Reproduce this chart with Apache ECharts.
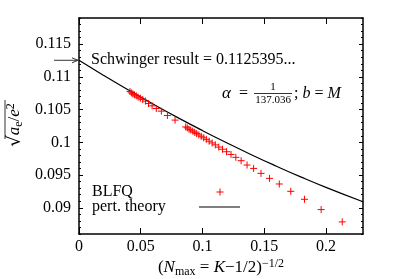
<!DOCTYPE html>
<html><head><meta charset="utf-8">
<script src="https://cdn.jsdelivr.net/npm/echarts@6/dist/echarts.min.js"></script>
<style>html,body{margin:0;padding:0;background:#fff}#c{width:399px;height:279px}</style>
</head><body><div id="c"></div>
<script>
// perturbation theory curve
const curveX = [0, 0.02, 0.04, 0.06, 0.08, 0.1, 0.12, 0.14, 0.16, 0.18, 0.2, 0.23];
const curveY = [0.11254, 0.11023, 0.10800, 0.10585, 0.10378, 0.10180, 0.09990, 0.09808, 0.09635, 0.09469, 0.09312, 0.09092];
// BLFQ points
const blfqX = [0.0413, 0.0424, 0.0436, 0.0449, 0.0464, 0.0479, 0.0497, 0.0516, 0.0538, 0.0563, 0.0592, 0.0626, 0.0667, 0.0716, 0.0778,
  0.0864, 0.0877, 0.0891, 0.0905, 0.0921, 0.0937, 0.0953, 0.0971, 0.0990, 0.1010, 0.1031, 0.1054, 0.1078, 0.1104, 0.1132, 0.1162,
  0.1195, 0.1231, 0.1270, 0.1313, 0.1361, 0.1414, 0.1474, 0.1543, 0.1622, 0.1715, 0.1826, 0.1961, 0.2132];
const blfqY = [0.10776, 0.10756, 0.10741, 0.10726, 0.10710, 0.10690, 0.10675, 0.10654, 0.10630, 0.10593, 0.10558, 0.10517, 0.10477, 0.10410, 0.10340,
  0.10236, 0.10221, 0.10201, 0.10189, 0.10172, 0.10154, 0.10134, 0.10114, 0.10093, 0.10069, 0.10046, 0.10018, 0.09991, 0.09962, 0.09928, 0.09895,
  0.09857, 0.09816, 0.09771, 0.09720, 0.09654, 0.09602, 0.09526, 0.09450, 0.09364, 0.09252, 0.09130, 0.08973, 0.08785];
const xTicks = [0, 0.05, 0.1, 0.15, 0.2];
const yTicks = [0.09, 0.095, 0.1, 0.105, 0.11, 0.115];
const yMinorTicks = [0.086, 0.087, 0.088, 0.089, 0.090, 0.091, 0.092, 0.093, 0.094, 0.095, 0.096, 0.097, 0.098, 0.099, 0.100,
  0.101, 0.102, 0.103, 0.104, 0.105, 0.106, 0.107, 0.108, 0.109, 0.110, 0.111, 0.112, 0.113, 0.114, 0.115, 0.116, 0.117, 0.118, 0.119];
const schwinger = 0.1125395;

const F = 'Liberation Serif';
const K = '#000';
const chart = echarts.init(document.getElementById('c'));

function xAx(pos, labels) {
  return {
    type: 'value', position: pos, min: 0, max: 0.23, interval: 0.05,
    axisLine: {show: true, onZero: false, lineStyle: {color: K, width: 1.5}},
    axisTick: {show: true, inside: true, length: 6, customValues: xTicks, lineStyle: {color: K, width: 1}},
    axisLabel: {show: labels, customValues: xTicks, margin: 5, color: K, fontFamily: F, fontSize: 16},
    splitLine: {show: false}
  };
}
function yAx(pos, ticks, len, labels, line) {
  return {
    type: 'value', position: pos, min: 0.086, max: 0.119,
    axisLine: {show: line, onZero: false, lineStyle: {color: K, width: 1.5}},
    axisTick: {show: true, inside: true, length: len, customValues: ticks, lineStyle: {color: K, width: 1}},
    axisLabel: {show: labels, customValues: ticks, margin: 8, color: K, fontFamily: F, fontSize: 16,
      formatter: v => String(+v.toFixed(3))},
    splitLine: {show: false}
  };
}

chart.setOption({
  animation: false,
  grid: {left: 79, right: 36, top: 18, bottom: 45, containLabel: false, outerBoundsMode: 'none'},
  xAxis: [xAx('bottom', true), xAx('top', false)],
  yAxis: [yAx('left', yTicks, 4, true, true), yAx('left', yMinorTicks, 2, false, false),
          yAx('right', yTicks, 4, false, true), yAx('right', yMinorTicks, 2, false, false)],
  series: [
    {type: 'line', name: 'pert. theory', data: curveX.map((x, i) => [x, curveY[i]]), smooth: true,
      symbol: 'none', lineStyle: {color: K, width: 1.2}, silent: true, z: 2},
    {type: 'scatter', name: 'BLFQ', data: blfqX.map((x, i) => [x, blfqY[i]]),
      symbol: 'path://M5,0L5,10M0,5L10,5', symbolSize: 7,
      itemStyle: {color: 'rgba(0,0,0,0)', borderColor: '#ff0000', borderWidth: 1, opacity: 1}, silent: true, z: 3},
    // empty series so that the frame axes (top, right, minor ticks) are drawn
    {type: 'line', xAxisIndex: 1, yAxisIndex: 1, data: [], silent: true},
    {type: 'line', xAxisIndex: 1, yAxisIndex: 2, data: [], silent: true},
    {type: 'line', xAxisIndex: 0, yAxisIndex: 3, data: [], silent: true}
  ]
});

const p0 = chart.convertToPixel({xAxisIndex: 0, yAxisIndex: 0}, [0, schwinger]);
const gr = {
  n: {fill: K, fontFamily: F, fontSize: 16, lineHeight: 20, verticalAlign: 'middle'},
  i: {fill: K, fontFamily: F, fontSize: 16, fontStyle: 'italic', lineHeight: 20, verticalAlign: 'middle'},
  N: {fill: K, fontFamily: F, fontSize: 17, lineHeight: 20, verticalAlign: 'middle'},
  I: {fill: K, fontFamily: F, fontSize: 17, fontStyle: 'italic', lineHeight: 20, verticalAlign: 'middle'},
  r: {fill: K, fontFamily: 'DejaVu Serif', fontSize: 18, lineHeight: 20, verticalAlign: 'middle'},
  s: {fill: K, fontFamily: F, fontSize: 12, lineHeight: 10, verticalAlign: 'bottom'},
  p: {fill: K, fontFamily: F, fontSize: 12, lineHeight: 10, verticalAlign: 'top'}
};
function txt(x, y, s, size, italic) {
  return {type: 'text', x: x, y: y, style: {text: s, fill: K, fontFamily: F, fontSize: size || 16,
    fontStyle: italic ? 'italic' : 'normal', align: 'left', verticalAlign: 'middle',
    textAlign: 'left', textVerticalAlign: 'middle'}};
}
function rtxt(x, y, s, al) {
  return {type: 'text', x: x, y: y, style: {text: s, rich: gr, align: al || 'left', verticalAlign: 'middle',
    textAlign: al || 'left', textVerticalAlign: 'middle'}};
}
chart.setOption({graphic: [
  // arrow to Schwinger value
  {type: 'line', shape: {x1: p0[0] - 25, y1: p0[1], x2: p0[0] - 1, y2: p0[1]}, style: {stroke: '#333', lineWidth: 1}},
  {type: 'polyline', shape: {points: [[p0[0] - 7, p0[1] - 2.5], [p0[0] - 1, p0[1]], [p0[0] - 7, p0[1] + 2.5]]}, style: {stroke: '#333', fill: 'none', lineWidth: 1}},
  txt(p0[0] + 12, p0[1], 'Schwinger result = 0.1125395...'),
  // alpha annotation
  txt(222, 94, '\u03b1', 17, true),
  txt(239, 94, '='),
  {type: 'text', x: 273, y: 87, style: {text: '1', fill: K, fontFamily: F, fontSize: 11, align: 'center', verticalAlign: 'middle', textAlign: 'center', textVerticalAlign: 'middle'}},
  {type: 'line', shape: {x1: 254, y1: 93.5, x2: 292, y2: 93.5}, style: {stroke: K, lineWidth: 0.8}},
  {type: 'text', x: 273, y: 100, style: {text: '137.036', fill: K, fontFamily: F, fontSize: 11, align: 'center', verticalAlign: 'middle', textAlign: 'center', textVerticalAlign: 'middle'}},
  rtxt(294, 94, '{n|; }{i|b}{n| = }{i|M}'),
  // legend
  txt(92, 192, 'BLFQ'),
  txt(92, 207, 'pert. theory'),
  {type: 'line', shape: {x1: 216.5, y1: 192, x2: 223.5, y2: 192}, style: {stroke: '#ff0000', lineWidth: 1}},
  {type: 'line', shape: {x1: 220, y1: 188.5, x2: 220, y2: 195.5}, style: {stroke: '#ff0000', lineWidth: 1}},
  {type: 'line', shape: {x1: 199, y1: 207, x2: 240, y2: 207}, style: {stroke: K, lineWidth: 1.2}},
  // x axis title
  rtxt(221, 268, '{N|(}{I|N}{s|max}{N| = }{I|K}{N|\u22121/2)}{p|\u22121/2}', 'center'),
  // y axis title
  {type: 'group', x: 15, y: 125, rotation: Math.PI / 2, children: [
    {type: 'text', x: 0, y: 0, style: {text: '{r|\u221a}{I|a}{s|e}{N|/}{I|e}{p|2}', rich: gr,
      align: 'center', verticalAlign: 'middle', textAlign: 'center', textVerticalAlign: 'middle'}},
    {type: 'line', shape: {x1: -14, y1: -10, x2: 25, y2: -10}, style: {stroke: K, lineWidth: 0.8}}
  ]}
]});
</script></body></html>
